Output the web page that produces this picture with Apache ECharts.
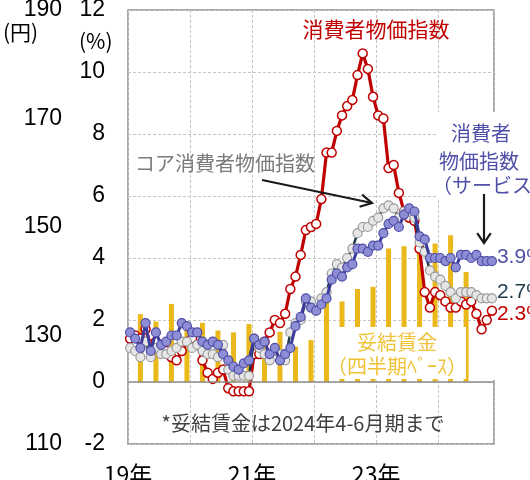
<!DOCTYPE html>
<html>
<head>
<meta charset="utf-8">
<script src="https://cdn.jsdelivr.net/npm/echarts@6/dist/echarts.min.js"></script>
<style>
  html, body { margin: 0; padding: 0; background: #fff; }
  #chart { width: 530px; height: 480px; }
</style>
</head>
<body>
<div id="chart"></div>
<script>
// Monthly series, Jan 2019 – Nov 2024 (year-on-year, %)
const startYear = 2019;
const headlineCpi = [
  1.4, 1.5, 1.4, 1.7, 1.2, 1.3, 1.0, 1.0, 0.8, 0.7, 1.0, 1.3,
  1.4, 1.2, 0.7, 0.3, 0.1, 0.3, 0.4, -0.2, -0.3, -0.3, -0.3, -0.3,
  0.9, 0.9, 1.3, 1.6, 2.0, 1.9, 2.2, 3.0, 3.4, 4.1, 4.9, 5.0,
  5.1, 5.9, 7.4, 7.4, 8.1, 8.6, 8.9, 9.1, 9.9, 10.6, 10.1, 9.2,
  8.6, 8.5, 6.9, 7.0, 6.1, 5.5, 5.3, 5.2, 4.3, 2.9, 2.4, 2.9,
  2.8, 2.6, 2.4, 2.4, 2.6, 2.5, 2.6, 2.2, 1.7, 2.0, 2.3
];
const coreCpi = [
  1.1, 1.0, 0.8, 1.3, 0.8, 1.1, 0.9, 0.9, 1.0, 1.1, 1.3, 1.3,
  1.1, 1.2, 1.0, 0.9, 0.9, 0.8, 1.2, 0.4, 0.2, 0.2, 0.2, 0.2,
  1.4, 1.1, 0.9, 0.7, 1.0, 0.9, 0.7, 1.6, 1.9, 2.0, 2.6, 2.6,
  2.3, 2.7, 2.9, 3.5, 3.8, 3.7, 4.0, 4.3, 4.8, 5.0, 5.0, 5.2,
  5.3, 5.6, 5.7, 5.6, 5.3, 5.5, 5.5, 5.3, 4.5, 4.2, 3.6, 3.4,
  3.3, 3.1, 2.9, 2.7, 2.9, 2.9, 2.9, 2.8, 2.7, 2.7, 2.7
];
const servicesCpi = [
  1.6, 1.4, 1.1, 1.9, 1.0, 1.6, 1.2, 1.3, 1.5, 1.5, 1.9, 1.8,
  1.6, 1.6, 1.3, 1.2, 1.3, 1.2, 0.9, 0.7, 0.5, 0.4, 0.6, 0.7,
  1.4, 1.2, 1.3, 0.9, 1.1, 0.7, 0.9, 1.1, 1.8, 2.1, 2.7, 2.4,
  2.3, 2.5, 2.7, 3.3, 3.5, 3.4, 3.7, 3.8, 4.3, 4.3, 4.2, 4.4,
  4.4, 4.8, 5.1, 5.2, 5.0, 5.4, 5.6, 5.5, 4.7, 4.6, 4.0, 4.0,
  4.0, 3.9, 4.0, 3.7, 4.1, 4.1, 4.0, 4.1, 3.9, 3.9, 3.9
];

// Quarterly negotiated wages, 2019Q1 – 2024Q2 (%)
const wageQuarters = [
  '2019Q1','2019Q2','2019Q3','2019Q4','2020Q1','2020Q2','2020Q3','2020Q4',
  '2021Q1','2021Q2','2021Q3','2021Q4','2022Q1','2022Q2','2022Q3','2022Q4',
  '2023Q1','2023Q2','2023Q3','2023Q4','2024Q1','2024Q2'
];
const negotiatedWages = [
  2.19, 1.95, 2.52, 1.90, 1.91, 1.66, 1.60, 1.87,
  1.45, 1.62, 1.14, 1.35, 2.80, 2.60, 3.00, 3.07,
  4.31, 4.38, 4.68, 4.47, 4.73, 3.55
];

// Axis ticks
const pctTicks = { min: -2, max: 12, step: 2 };
const yenTicks = { min: 110, max: 190, step: 20 };
const yearLabelEvery = 2;

// x position in months since Jan 2019 (points sit a little into each month)
const MONTH_POS = 0.4;
function monthX(i) { return i + MONTH_POS; }
function quarterX(label) {
  const y = parseInt(label.slice(0, 4), 10) - startYear;
  const q = parseInt(label.slice(5), 10) - 1;
  return monthX(y * 12 + q * 3 + 2);
}
const toPoints = arr => arr.map((v, i) => [monthX(i), v]);

const NUM_FONT = '"Liberation Sans", Arial, sans-serif';
const JP_FONT = '"Noto Sans CJK JP", sans-serif';

const RED = '#c00000';
const NAVY = '#1f3a4a';
const BLUE_LINE = '#3b3b9b';
const BLUE_TEXT = '#5050a8';
const GOLD = '#ebb81c';
const GOLD_TEXT = '#f0c238';

function arrowHead(x, y, dx, dy, len, spread) {
  const a = Math.atan2(dy, dx);
  const p1 = [x - len * Math.cos(a - spread), y - len * Math.sin(a - spread)];
  const p2 = [x - len * Math.cos(a + spread), y - len * Math.sin(a + spread)];
  return { type: 'polyline', shape: { points: [p1, [x, y], p2] },
           style: { stroke: '#1a1a1a', lineWidth: 2.2, fill: null }, z: 120 };
}

const chart = echarts.init(document.getElementById('chart'), null, { renderer: 'canvas' });

const option = {
  animation: false,
  backgroundColor: '#fff',
  grid: {
    left: 128, right: 36, top: 10, bottom: 36,
    containLabel: false, outerBoundsMode: 'none',
    show: true, borderColor: '#8c8c8c', borderWidth: 1.5, backgroundColor: 'transparent'
  },
  xAxis: {
    type: 'value', min: 0, max: 70.8, interval: 12,
    axisLine: { show: false, onZero: false },
    axisTick: { show: false },
    axisLabel: {
      margin: 19, fontSize: 23, color: '#000', fontFamily: JP_FONT,
      formatter: v => {
        const yrs = v / 12;
        if (Math.abs(yrs - Math.round(yrs)) > 1e-6) return '';
        if (Math.round(yrs) % yearLabelEvery !== 0) return '';
        return String((startYear + Math.round(yrs)) % 100) + '年';
      }
    },
    splitLine: { show: true, lineStyle: { color: '#c4c4c4', type: [3, 2], width: 1 } }
  },
  yAxis: [
    {
      type: 'value', min: pctTicks.min, max: pctTicks.max, interval: pctTicks.step,
      position: 'left',
      axisLine: { show: false }, axisTick: { show: false },
      axisLabel: { margin: 23, fontSize: 23, color: '#000', fontFamily: NUM_FONT },
      splitLine: { show: true, lineStyle: { color: '#c4c4c4', type: [3, 2], width: 1 } }
    },
    {
      type: 'value', min: yenTicks.min, max: yenTicks.max, interval: yenTicks.step,
      position: 'left', offset: 58,
      axisLine: { show: false }, axisTick: { show: false },
      axisLabel: { margin: 8, fontSize: 23, color: '#000', fontFamily: NUM_FONT },
      splitLine: { show: false }
    }
  ],
  series: [
    {
      name: '妥結賃金', type: 'bar', yAxisIndex: 0, barWidth: 5,
      data: negotiatedWages.map((v, i) => [quarterX(wageQuarters[i]), v]),
      itemStyle: { color: GOLD },
      z: 2,
      markLine: {
        silent: true, symbol: 'none', label: { show: false },
        lineStyle: { color: '#8c8c8c', type: 'solid', width: 1.5 },
        data: [{ yAxis: 0 }]
      }
    },
    {
      name: '消費者物価指数', type: 'line', yAxisIndex: 0, data: toPoints(headlineCpi),
      symbol: 'circle', symbolSize: 9, z: 3,
      lineStyle: { color: RED, width: 3.2 },
      itemStyle: { color: '#fff', borderColor: RED, borderWidth: 1.5 },
      endLabel: { show: true, distance: 5, offset: [0, 4], fontSize: 21, fontFamily: NUM_FONT,
                  color: RED, formatter: p => p.value[1].toFixed(1) + '%' }
    },
    {
      name: 'コア消費者物価指数', type: 'line', yAxisIndex: 0, data: toPoints(coreCpi),
      symbol: 'circle', symbolSize: 9, z: 4,
      lineStyle: { color: NAVY, width: 2.5 },
      itemStyle: { color: '#e6e6e6', borderColor: '#9a9a9a', borderWidth: 1.2 },
      endLabel: { show: true, distance: 5, offset: [0, -6], fontSize: 21, fontFamily: NUM_FONT,
                  color: NAVY, formatter: p => p.value[1].toFixed(1) + '%' }
    },
    {
      name: '消費者物価指数（サービス）', type: 'line', yAxisIndex: 0, data: toPoints(servicesCpi),
      symbol: 'circle', symbolSize: 9, z: 5,
      lineStyle: { color: BLUE_LINE, width: 3 },
      itemStyle: { color: '#8e8ed6', borderColor: '#4e4ea6', borderWidth: 1.2 },
      endLabel: { show: true, distance: 5, offset: [0, -4], fontSize: 21, fontFamily: NUM_FONT,
                  color: BLUE_TEXT, formatter: p => p.value[1].toFixed(1) + '%' }
    }
  ],
  graphic: [
    // axis units
    { type: 'text', left: 3, top: 22, z: 100,
      style: { text: '(円)', font: '21px ' + JP_FONT, fill: '#000' } },
    { type: 'text', left: 79, top: 31, z: 100,
      style: { text: '(%)', font: '21px ' + JP_FONT, fill: '#000' } },

    // headline title
    { type: 'text', x: 376, y: 29, z: 100,
      style: { text: '消費者物価指数', font: '21px ' + JP_FONT, fill: RED,
               align: 'center', verticalAlign: 'middle' } },

    // core label and arrow
    { type: 'text', x: 135, y: 163, z: 100,
      style: { text: 'コア消費者物価指数', font: '20px ' + JP_FONT, fill: '#7a7a7a',
               align: 'left', verticalAlign: 'middle' } },
    { type: 'line', shape: { x1: 262, y1: 180, x2: 372, y2: 203 }, z: 120,
      style: { stroke: '#1a1a1a', lineWidth: 2.2 } },
    arrowHead(372, 203, 110, 23, 13, 0.5),

    // services label block; its backing also hides the frame's right edge beside the end labels
    { type: 'rect', shape: { x: 436, y: 112, width: 94, height: 86 }, z: 90,
      style: { fill: '#fff' } },
    { type: 'rect', shape: { x: 493, y: 198, width: 37, height: 182 }, z: 1,
      style: { fill: '#fff' } },
    { type: 'text', x: 481, y: 133, z: 100,
      style: { text: '消費者', font: '20px ' + JP_FONT, fill: BLUE_TEXT,
               align: 'center', verticalAlign: 'middle' } },
    { type: 'text', x: 479, y: 161, z: 100,
      style: { text: '物価指数', font: '20px ' + JP_FONT, fill: BLUE_TEXT,
               align: 'center', verticalAlign: 'middle' } },
    { type: 'text', x: 432, y: 185, z: 100,
      style: { text: '（サービス）', font: '20px ' + JP_FONT, fill: BLUE_TEXT,
               align: 'left', verticalAlign: 'middle' } },
    { type: 'line', shape: { x1: 484, y1: 194, x2: 484, y2: 243 }, z: 120,
      style: { stroke: '#1a1a1a', lineWidth: 2.2 } },
    arrowHead(484, 243, 0, 1, 12, 0.6),

    // wage label block
    { type: 'rect', shape: { x: 330, y: 327, width: 136, height: 52 }, z: 90,
      style: { fill: '#fff' } },
    { type: 'text', x: 397, y: 342, z: 100,
      style: { text: '妥結賃金', font: '20px ' + JP_FONT, fill: GOLD_TEXT,
               align: 'center', verticalAlign: 'middle' } },
    { type: 'text', x: 397, y: 366, z: 100,
      style: { text: '（四半期ﾍﾞｰｽ）', font: '20px ' + JP_FONT, fill: GOLD_TEXT,
               align: 'center', verticalAlign: 'middle' } },

    // footnote
    { type: 'text', x: 303, y: 423, z: 100,
      style: { text: '*妥結賃金は2024年4-6月期まで', font: '20px ' + JP_FONT, fill: '#404040',
               align: 'center', verticalAlign: 'middle' } }
  ]
};

chart.setOption(option);
</script>
</body>
</html>
